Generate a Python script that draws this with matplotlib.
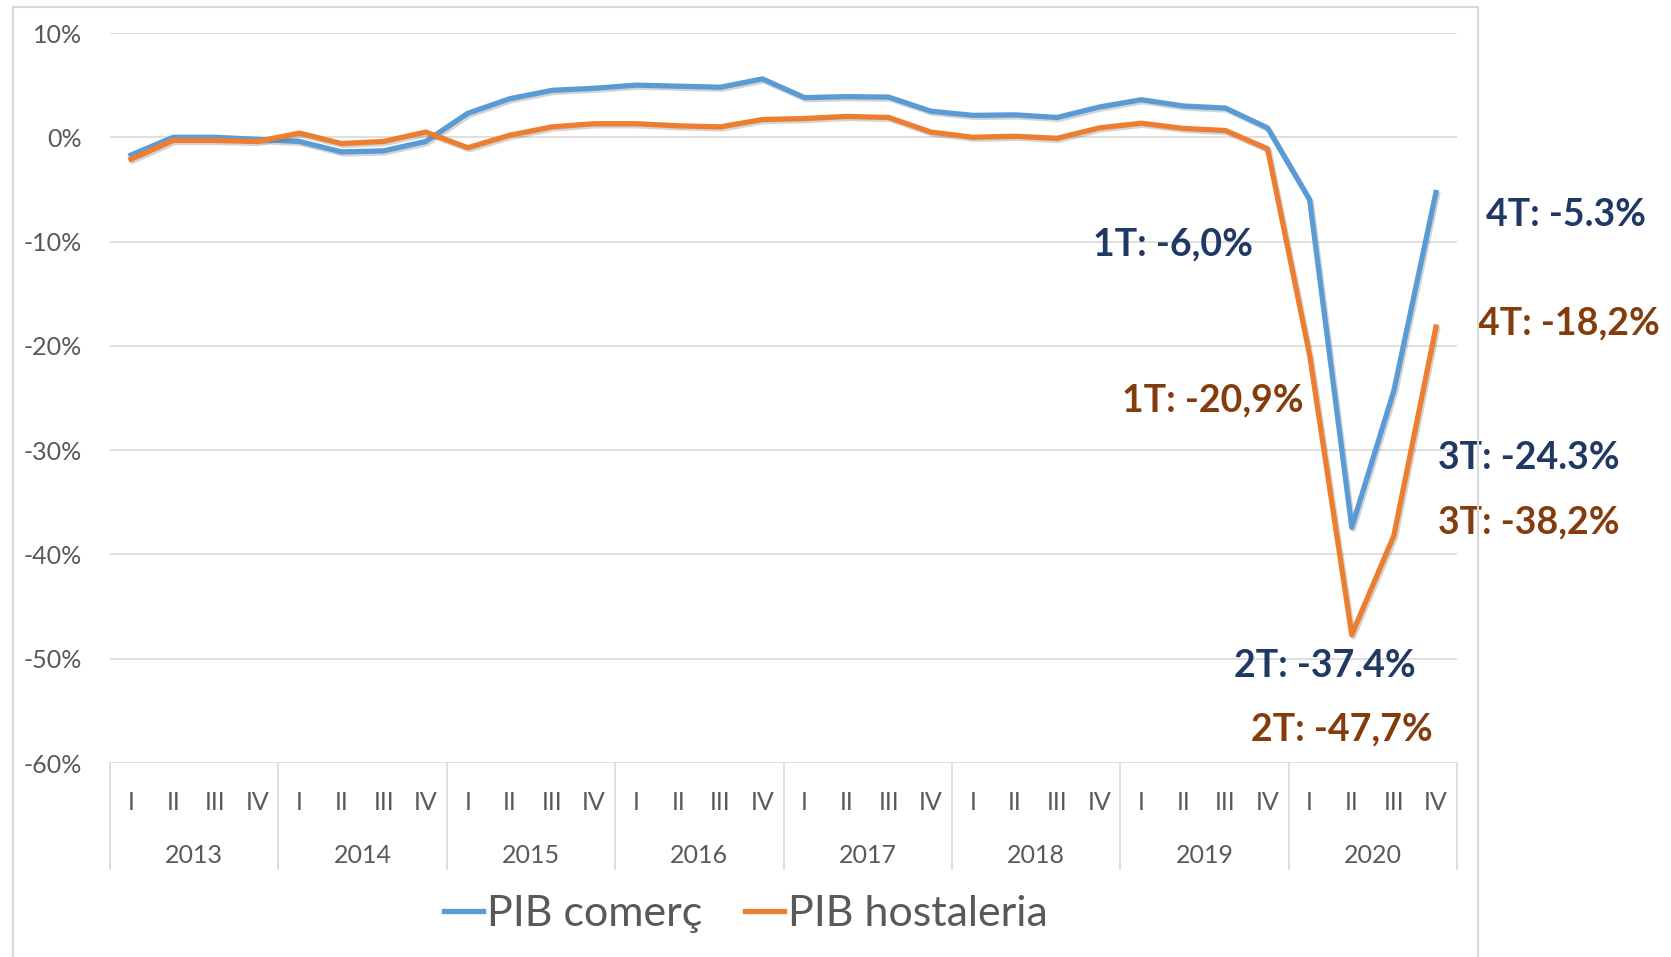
#!/usr/bin/env python3

import matplotlib.patheffects as pe
import matplotlib.pyplot as plt
from matplotlib.lines import Line2D

plt.rcParams["font.family"] = ["Lato", "DejaVu Sans"]

years = ["2013", "2014", "2015", "2016", "2017", "2018", "2019", "2020"]
quarters = ["I", "II", "III", "IV"]

# Variacio interanual (%), trimestral
pib_comerc = [
    -1.7, 0.0, 0.0, -0.2,
    -0.4, -1.4, -1.3, -0.4,
    2.3, 3.7, 4.5, 4.7,
    5.0, 4.9, 4.8, 5.6,
    3.8, 3.9, 3.85, 2.5,
    2.1, 2.15, 1.9, 2.9,
    3.6, 3.0, 2.8, 0.9,
    -6.0, -37.4, -24.3, -5.3,
]
pib_hostaleria = [
    -2.1, -0.3, -0.3, -0.4,
    0.4, -0.6, -0.4, 0.5,
    -1.0, 0.2, 1.0, 1.3,
    1.3, 1.1, 1.0, 1.7,
    1.8, 2.0, 1.9, 0.5,
    0.0, 0.1, -0.1, 0.9,
    1.35, 0.85, 0.65, -1.1,
    -20.9, -47.7, -38.2, -18.2,
]

comerc_labels = ["1T: -6,0%", "2T: -37.4%", "3T: -24.3%", "4T: -5.3%"]
hostaleria_labels = ["1T: -20,9%", "2T: -47,7%", "3T: -38,2%", "4T: -18,2%"]

blue = "#5B9BD5"
orange = "#ED7D31"
navy = "#1F3864"
brown = "#843C0C"
grid_gray = "#D9D9D9"
text_gray = "#595959"

W, H = 1671, 957
fig = plt.figure(figsize=(W / 100, H / 100), dpi=100)

# plot area in pixels: left 110, right 1457, top 33, bottom 763
ax = fig.add_axes([110 / W, 1 - 763 / H, (1457 - 110) / W, (763 - 33) / H])

x = list(range(len(pib_comerc)))
shadow = [pe.SimpleLineShadow(offset=(1.2, -1.5), alpha=0.25, shadow_color="#555555"), pe.Normal()]
ax.plot(x, pib_comerc, color=blue, lw=3.8, solid_joinstyle="round",
        path_effects=shadow, zorder=3)
ax.plot(x, pib_hostaleria, color=orange, lw=3.8, solid_joinstyle="round",
        path_effects=shadow, zorder=3)

ax.set_xlim(-0.5, len(x) - 0.5)
ax.set_ylim(-60, 10)
ax.set_yticks(range(-60, 11, 10))
ax.set_yticklabels([f"{v}%" for v in range(-60, 11, 10)])
ax.grid(axis="y", color=grid_gray, lw=1.2)
ax.set_axisbelow(True)
for s in ax.spines.values():
    s.set_visible(False)
ax.tick_params(axis="y", length=0, pad=20, labelsize=18, labelcolor=text_gray)

# category axis: quarters + years
ax.set_xticks(x)
ax.set_xticklabels(quarters * len(years))
ax.tick_params(axis="x", length=0, pad=20, labelsize=18, labelcolor=text_gray)
trans = ax.get_xaxis_transform()
for k in range(len(years) + 1):
    ax.plot([k * 4 - 0.5] * 2, [0, -0.145], transform=trans, color=grid_gray,
            lw=1.2, clip_on=False)
for k, yr in enumerate(years):
    ax.text(k * 4 + 1.5, -0.127, yr, transform=trans, ha="center", va="center",
            fontsize=18, color=text_gray)

# annotations for 2020
comerc_pos = [(22.85, -10.3), (26.2, -50.7), (31.05, -30.75), (32.2, -7.45)]
host_pos = [(23.55, -25.2), (26.6, -56.8), (31.05, -36.9), (32.0, -17.9)]
for txt, (px, py) in zip(comerc_labels, comerc_pos):
    ax.text(px, py, txt, ha="left", va="center", fontsize=27,
            fontweight="bold", color=navy, clip_on=False, zorder=5)
for txt, (px, py) in zip(hostaleria_labels, host_pos):
    ax.text(px, py, txt, ha="left", va="center", fontsize=27,
            fontweight="bold", color=brown, clip_on=False, zorder=5)

# outer chart frame
frame = dict(color=grid_gray, lw=1.5, transform=fig.transFigure)
fig.add_artist(Line2D([13 / W, 13 / W], [0, 1 - 7 / H], **frame))
fig.add_artist(Line2D([13 / W, 1478 / W], [1 - 7 / H, 1 - 7 / H], **frame))
fig.add_artist(Line2D([1478 / W, 1478 / W], [0, 1 - 7 / H], **frame))

handles = [
    Line2D([], [], color=blue, lw=3.8),
    Line2D([], [], color=orange, lw=3.8),
]
fig.legend(handles, ["PIB comerç", "PIB hostaleria"], loc="center",
           bbox_to_anchor=(746 / W, 1 - 914 / H), ncol=2, frameon=False,
           fontsize=31, labelcolor=text_gray, handlelength=0.9,
           handletextpad=0.1, columnspacing=1.0)

fig.savefig("out.png", dpi=100)
